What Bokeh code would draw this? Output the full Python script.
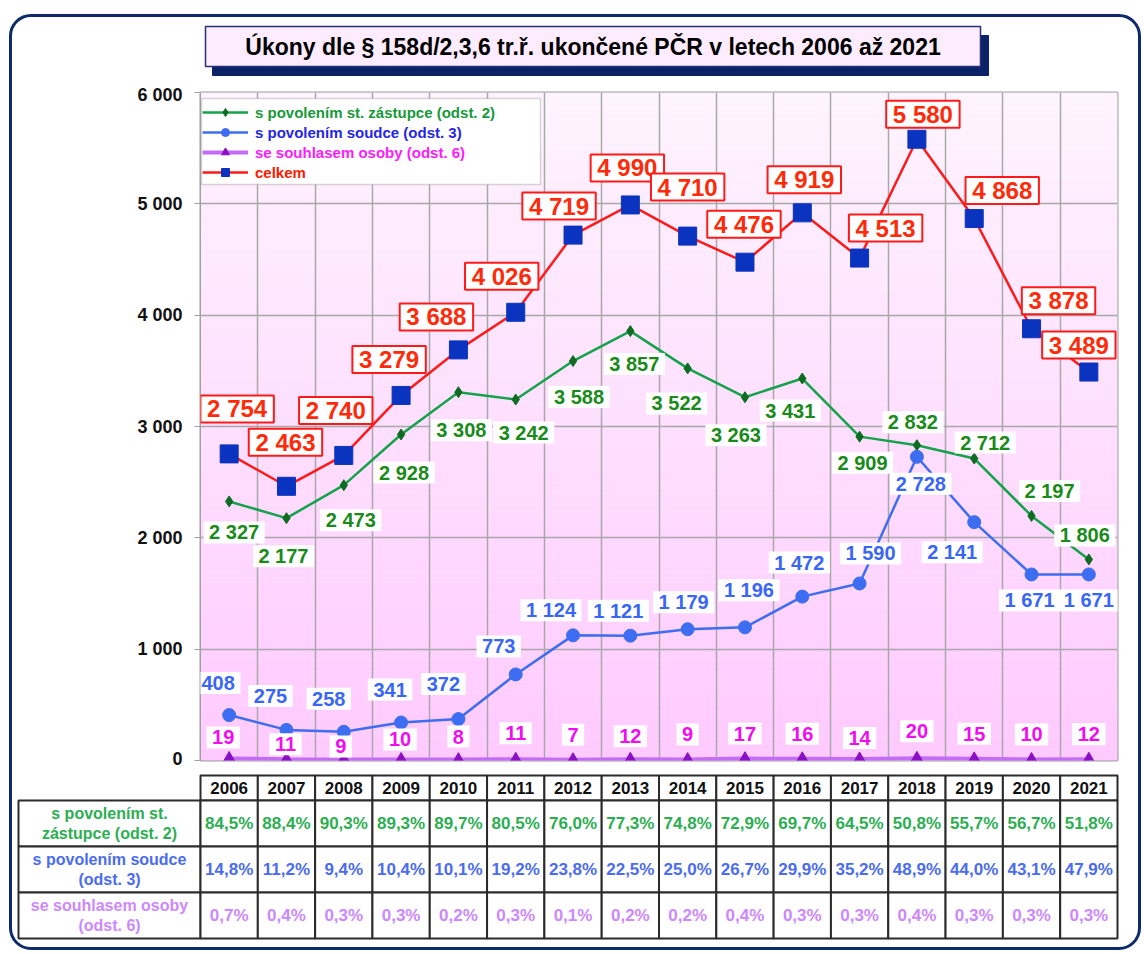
import numpy as np
from bokeh.plotting import figure
from bokeh.models import (ColumnDataSource, LabelSet, Legend, LegendItem,
                          FixedTicker, Range1d, BoxAnnotation)
from bokeh.layouts import column
from bokeh.embed import file_html
from bokeh.resources import INLINE
from bokeh.core.properties import value

FONT = "Liberation Sans"

# ---------------- data ----------------
years = ["2006", "2007", "2008", "2009", "2010", "2011", "2012", "2013",
         "2014", "2015", "2016", "2017", "2018", "2019", "2020", "2021"]
zastupce = [2327, 2177, 2473, 2928, 3308, 3242, 3588, 3857, 3522, 3263, 3431, 2909, 2832, 2712, 2197, 1806]
soudce = [408, 275, 258, 341, 372, 773, 1124, 1121, 1179, 1196, 1472, 1590, 2728, 2141, 1671, 1671]
souhlas = [19, 11, 9, 10, 8, 11, 7, 12, 9, 17, 16, 14, 20, 15, 10, 12]
celkem = [2754, 2463, 2740, 3279, 3688, 4026, 4719, 4990, 4710, 4476, 4919, 4513, 5580, 4868, 3878, 3489]

pct_zastupce = ["84,5%", "88,4%", "90,3%", "89,3%", "89,7%", "80,5%", "76,0%", "77,3%",
                "74,8%", "72,9%", "69,7%", "64,5%", "50,8%", "55,7%", "56,7%", "51,8%"]
pct_soudce = ["14,8%", "11,2%", "9,4%", "10,4%", "10,1%", "19,2%", "23,8%", "22,5%",
              "25,0%", "26,7%", "29,9%", "35,2%", "48,9%", "44,0%", "43,1%", "47,9%"]
pct_souhlas = ["0,7%", "0,4%", "0,3%", "0,3%", "0,2%", "0,3%", "0,1%", "0,2%",
               "0,2%", "0,4%", "0,3%", "0,3%", "0,4%", "0,3%", "0,3%", "0,3%"]

y_ticks = [0, 1000, 2000, 3000, 4000, 5000, 6000]
y_tick_labels = ["0", "1 000", "2 000", "3 000", "4 000", "5 000", "6 000"]

name_zastupce = "s povolením st. zástupce (odst. 2)"
name_soudce = "s povolením soudce (odst. 3)"
name_souhlas = "se souhlasem osoby (odst. 6)"
name_celkem = "celkem"
row_labels = ["s povolením st.\nzástupce (odst. 2)", "s povolením soudce\n(odst. 3)",
              "se souhlasem osoby\n(odst. 6)"]
title_text = "Úkony dle § 158d/2,3,6 tr.ř. ukončené PČR v letech 2006 až 2021"

# label offsets in pixels (dx right, dy up)
celkem_dx = [8, -1, -8, -12, -22, -14, -14, -3, 0, -1, 2, 26, 6, 28, 27, -10]
celkem_dy = [45, 44, 45, 36, 33, 36, 29, 37, 49, 38, 33, 30, 25, 28, 28, 27]
zastupce_dx = [5, -3, 7, 3, 3, 8, 6, 4, -11, -9, -12, 3, -4, 11, 18, -4]
zastupce_dy = [-31, -38, -35, -38, -38, -33, -36, -33, -35, -38, -32, -26, 23, 16, 25, 24]
soudce_dx = [-11, -16, -15, -11, -15, -17, -22, -12, -4, 4, -3, 11, 4, -22, -2, 0]
soudce_dy = [32, 34, 33, 33, 35, 28, 25, 25, 27, 37, 34, 30, -27, -30, -26, -26]
souhlas_dx = [-6, -1, -3, -1, 0, 0, 0, 0, 0, 0, 0, 0, 0, 0, 0, 0]
souhlas_dy = [21, 15, 13, 20, 23, 26, 25, 23, 25, 25, 25, 21, 27, 25, 25, 25]

# ---------------- colours ----------------
GREEN_LINE = "#14a24a"
GREEN_MARK = "#0d6b22"
GREEN_TXT = "#1a8a1a"
BLUE_LINE = "#3d6df0"
BLUE_TXT = "#3a66f5"
VIOLET_LINE = "#c46cf7"
VIOLET_MARK = "#8b0fc4"
MAGENTA_TXT = "#f20cf2"
RED_LINE = "#ff1a1a"
RED_TXT = "#ff2a0a"
SQUARE = "#0a34c0"
GRID = "#a8a8a8"
NB = "\u00a0"


def fmt(v):
    return f"{v:,}".replace(",", " ")


def padded(v):
    return NB + fmt(v) + NB


def no_frame_align(fig):
    try:
        fig.frame_align = False
    except Exception:
        pass


n = len(years)
xs = [i + 0.5 for i in range(n)]

src = ColumnDataSource(dict(
    x=xs, zastupce=zastupce, soudce=soudce, souhlas=souhlas, celkem=celkem,
    zastupce_txt=[padded(v) for v in zastupce], soudce_txt=[padded(v) for v in soudce],
    souhlas_txt=[padded(v) for v in souhlas], celkem_txt=[padded(v) for v in celkem],
    c_dx=celkem_dx, c_dy=celkem_dy, z_dx=zastupce_dx, z_dy=zastupce_dy,
    s_dx=soudce_dx, s_dy=soudce_dy, o_dx=souhlas_dx, o_dy=souhlas_dy,
))

FIG_W = 1126

# ---------------- title figure ----------------
TH = 67
pt = figure(width=FIG_W, height=TH, x_range=Range1d(0, FIG_W), y_range=Range1d(0, TH),
            x_axis_type=None, y_axis_type=None, min_border=0,
            toolbar_location=None, output_backend="svg")
pt.outline_line_color = None
pt.background_fill_color = None
pt.border_fill_color = None
pt.grid.visible = False
no_frame_align(pt)
pt.quad(left=[200], right=[976], bottom=[9], top=[49], fill_color="#0b2366", line_color="#0b2366")
pt.quad(left=[193], right=[968], bottom=[18], top=[58], fill_color="#fdecfd", line_color="#24307a",
        line_width=1.5)
pt.text(x=[580.5], y=[38], text=[title_text], text_font=value(FONT), text_font_size="23px",
        text_font_style="bold", text_color="#000000", text_align="center", text_baseline="middle")

# ---------------- chart figure ----------------
p = figure(frame_width=917, frame_height=668, x_range=Range1d(0, n), y_range=Range1d(0, 6000),
           min_border_left=188, min_border_top=8, min_border_right=21, min_border_bottom=8,
           toolbar_location=None, output_backend="svg")
no_frame_align(p)
p.background_fill_color = "white"
p.border_fill_color = None
p.outline_line_color = "#a0a0a0"
p.outline_line_width = 2

# pink gradient background of the plot area
nb = 60
edges = np.linspace(0, 6000, nb + 1)
top_c = np.array([254, 244, 254])
bot_c = np.array([255, 202, 255])
cols = []
for k in range(nb):
    tt = (k + 0.5) / nb
    c = bot_c + (top_c - bot_c) * tt
    cols.append("#%02x%02x%02x" % tuple(int(round(v)) for v in c))
p.quad(left=0, right=n, bottom=edges[:-1], top=edges[1:], fill_color=cols, line_color=cols,
       line_width=0.5, level="image")

p.ygrid.ticker = FixedTicker(ticks=y_ticks)
p.xgrid.ticker = FixedTicker(ticks=list(range(1, n)))
p.grid.grid_line_color = GRID
p.grid.grid_line_width = 1.5

p.xaxis.visible = False
p.yaxis.ticker = FixedTicker(ticks=y_ticks)
p.yaxis.major_label_overrides = {t: l for t, l in zip(y_ticks, y_tick_labels)}
p.yaxis.major_label_text_font = FONT
p.yaxis.major_label_text_font_size = "18px"
p.yaxis.major_label_text_font_style = "bold"
p.yaxis.major_label_text_color = "#111111"
p.yaxis.axis_line_color = "#a0a0a0"
p.yaxis.major_tick_line_color = "#a0a0a0"
p.yaxis.major_tick_out = 6
p.yaxis.major_tick_in = 0
p.yaxis.minor_tick_line_color = None
p.yaxis.major_label_standoff = 12

# series
g_line = p.line("x", "zastupce", source=src, line_color=GREEN_LINE, line_width=2.5)
g_mark = p.scatter("x", "zastupce", source=src, marker="diamond", size=11,
                   fill_color=GREEN_MARK, line_color=GREEN_MARK)
b_line = p.line("x", "soudce", source=src, line_color=BLUE_LINE, line_width=2.5)
b_mark = p.scatter("x", "soudce", source=src, marker="circle", size=13,
                   fill_color=BLUE_LINE, line_color=BLUE_LINE)
v_line = p.line("x", "souhlas", source=src, line_color=VIOLET_LINE, line_width=4)
v_mark = p.scatter("x", "souhlas", source=src, marker="triangle", size=12,
                   fill_color=VIOLET_MARK, line_color=VIOLET_MARK)
r_line = p.line("x", "celkem", source=src, line_color=RED_LINE, line_width=2.5)
r_mark = p.scatter("x", "celkem", source=src, marker="square", size=18,
                   fill_color=SQUARE, line_color=SQUARE)


def labels(ycol, tcol, dxcol, dycol, color, size, border=None):
    ls = LabelSet(x="x", y=ycol, text=tcol, x_offset=dxcol, y_offset=dycol, source=src,
                  text_font=value(FONT), text_font_size=size, text_font_style="bold",
                  text_color=color, text_align="center", text_baseline="middle",
                  background_fill_color="white")
    if border:
        ls.border_line_color = border
        ls.border_line_width = 2
    p.add_layout(ls)
    return ls


labels("zastupce", "zastupce_txt", "z_dx", "z_dy", GREEN_TXT, "20px")
labels("soudce", "soudce_txt", "s_dx", "s_dy", BLUE_TXT, "20px")
labels("souhlas", "souhlas_txt", "o_dx", "o_dy", MAGENTA_TXT, "20px")
labels("celkem", "celkem_txt", "c_dx", "c_dy", RED_TXT, "24px", border=RED_LINE)

# legend box + legends
p.add_layout(BoxAnnotation(left=1, right=340, bottom=576, top=662,
                           left_units="screen", right_units="screen",
                           bottom_units="screen", top_units="screen",
                           fill_color="white", fill_alpha=1, line_color="#7a7a7a", line_width=1.5))
legend_specs = [(name_zastupce, [g_line, g_mark], "#17993a"),
                (name_soudce, [b_line, b_mark], "#2525e8"),
                (name_souhlas, [v_line, v_mark], "#ff1aff"),
                (name_celkem, [r_line, r_mark], "#ff1a00")]
for i, (lab, rends, col) in enumerate(legend_specs):
    lg = Legend(items=[LegendItem(label=lab, renderers=rends)], location=(2, 638 - 20 * i),
                orientation="vertical", padding=0, margin=0, spacing=0,
                glyph_width=46, glyph_height=20, label_height=20, label_standoff=7,
                label_text_font=FONT, label_text_font_size="15px", label_text_font_style="bold",
                label_text_color=col, border_line_alpha=0, background_fill_alpha=0)
    p.add_layout(lg, "center")

# ---------------- table figure ----------------
unit_x = 917 / n
lab_left = -182 / unit_x
hdr_top = 3 + 25 / 46
t = figure(frame_width=1103, frame_height=167,
           x_range=Range1d(-184 / unit_x, n + 2 / unit_x),
           y_range=Range1d(-2 / 46, hdr_top + 2 / 46),
           min_border_left=4, min_border_right=19, min_border_top=5, min_border_bottom=7,
           toolbar_location=None, output_backend="svg")
no_frame_align(t)
t.axis.visible = False
t.grid.visible = False
t.outline_line_color = None
t.border_fill_color = None
t.background_fill_color = None

cl, cr, cb, ct = [], [], [], []
for i in range(n):
    cl.append(i); cr.append(i + 1); cb.append(3); ct.append(hdr_top)
for r in range(3):
    bottom = 2 - r
    cl.append(lab_left); cr.append(0); cb.append(bottom); ct.append(bottom + 1)
    for i in range(n):
        cl.append(i); cr.append(i + 1); cb.append(bottom); ct.append(bottom + 1)
t.quad(left=cl, right=cr, bottom=cb, top=ct, fill_color="white", line_color="#2b2b2b", line_width=2)

t.text(x=xs, y=[3 + 12.5 / 46] * n, text=years, text_font=value(FONT), text_font_size="17px",
       text_font_style="bold", text_color="#111111", text_align="center", text_baseline="middle")
row_cols = ["#2cae52", "#4b6bf0", "#cc88ff"]
for r, (vals, col) in enumerate(zip([pct_zastupce, pct_soudce, pct_souhlas], row_cols)):
    t.text(x=xs, y=[2.5 - r] * n, text=vals, text_font=value(FONT), text_font_size="17px",
           text_font_style="bold", text_color=col, text_align="center", text_baseline="middle")
t.text(x=[lab_left / 2] * 3, y=[2.5, 1.5, 0.5], text=row_labels, text_font=value(FONT),
       text_font_size="16px", text_font_style="bold", text_color=row_cols,
       text_align="center", text_baseline="middle", text_line_height=1.15)

layout = column(pt, p, t, styles={"border": "3px solid #0d2b6b", "border-radius": "22px",
                                  "margin-left": "9px", "margin-top": "14px"})

open("out.html", "w").write(file_html(layout, INLINE))
